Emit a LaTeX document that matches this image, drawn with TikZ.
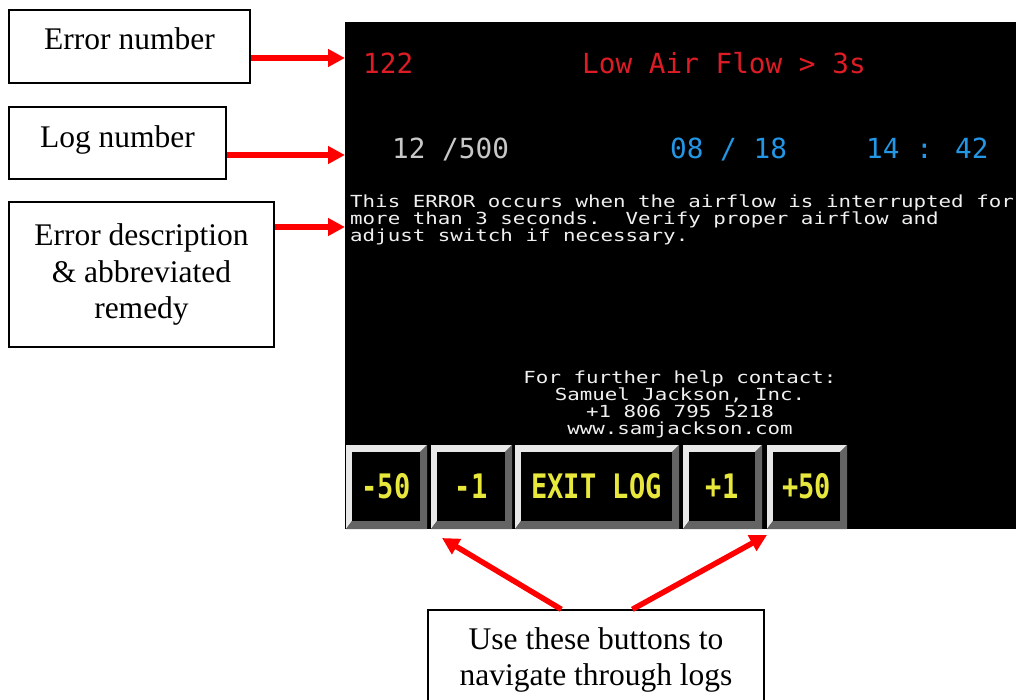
\documentclass[tikz,border=0pt]{standalone}
\usepackage{fontspec}
\usepackage{graphicx}
\setmainfont{Liberation Serif}
\newfontfamily\scrfont{DejaVu Sans Mono}
\usetikzlibrary{arrows.meta,calc}
\newcommand\vsq[1]{\scalebox{1}[0.8]{#1}}
\definecolor{scrred}{RGB}{222,28,38}
\definecolor{scrblue}{RGB}{35,150,230}
\definecolor{scrgray}{RGB}{200,200,200}
\definecolor{scrwhite}{RGB}{240,240,240}
\definecolor{scryellow}{RGB}{232,232,60}
\definecolor{bevlight}{RGB}{232,232,232}
\definecolor{bevdark}{RGB}{100,100,100}
\definecolor{arrred}{RGB}{255,0,0}
\begin{document}
\begin{tikzpicture}[x=1pt,y=-1pt,
  labelbox/.style={draw=black, line width=1.3pt, inner sep=0pt, align=center,
    font=\fontsize{31.5}{36.7}\selectfont},
  callout/.style={arrred, line width=5.5pt, -{Triangle[length=17pt,width=17pt]}},
  bigtxt/.style={inner sep=0pt, anchor=base west, font=\scrfont\fontsize{27.7}{30}\selectfont},
  smalltxt/.style={inner sep=0pt, text=scrwhite, font=\scrfont\fontsize{20.8}{17.5}\selectfont\frenchspacing},
  btnface/.style={fill=black, inner sep=0pt, text=scryellow, minimum height=69pt,
    font=\scrfont\bfseries\fontsize{27}{30}\selectfont}
]
\useasboundingbox (0,0) rectangle (1016,700);
\fill[white] (0,0) rectangle (1016,700);

% screen
\node[fill=black, inner sep=0pt, minimum width=671pt, minimum height=507pt, anchor=north west] (screen) at (345,22) {};

% screen texts
\node[bigtxt, text=scrred] (errno) at (363,74) {122};
\node[bigtxt, text=scrred] (errname) at (582,74) {Low Air Flow > 3s};
\node[bigtxt, text=scrgray] (logno) at (392,159) {12 /500};
\node[bigtxt, text=scrblue] (date) at (670,159) {08 / 18};
\node[bigtxt, text=scrblue] (time) at (866,159) {14 : 42};

\node[smalltxt, anchor=base west] (d1) at (350,208) {\vsq{This ERROR occurs when the airflow is interrupted for}};
\node[smalltxt, anchor=base west] (d2) at (350,225) {\vsq{more than 3 seconds.\ \ Verify proper airflow and}};
\node[smalltxt, anchor=base west] (d3) at (350,242) {\vsq{adjust switch if necessary.}};

\node[smalltxt, anchor=base] (f1) at (680,383) {\vsq{For further help contact:}};
\node[smalltxt, anchor=base] (f2) at (680,400) {\vsq{Samuel Jackson, Inc.}};
\node[smalltxt, anchor=base] (f3) at (680,417) {\vsq{+1 806 795 5218}};
\node[smalltxt, anchor=base] (f4) at (680,434) {\vsq{www.samjackson.com}};

% buttons
\foreach \xa/\xb/\lab/\nm in {346/427/-50/bA, 431/512/-1/bB, 515/679/EXIT LOG/bC, 683/762/+1/bD, 767/847/+50/bE}{
  \fill[bevlight] (\xa,445) -- (\xb,445) -- (\xb-7,452) -- (\xa+6,452) -- (\xa+6,521) -- (\xa,529) -- cycle;
  \fill[bevdark] (\xb,445) -- (\xb,529) -- (\xa,529) -- (\xa+6,521) -- (\xb-7,521) -- (\xb-7,452) -- cycle;
  \node[btnface, minimum width={(\xb-\xa-13)*1pt}] (\nm) at ({(\xa+\xb-1)/2},486.5) {\scalebox{1}[1.25]{\lab}};
}

% label boxes
\node[labelbox, minimum width=241pt, minimum height=73pt, text height=22pt, text depth=15pt] (errbox) at (129.5,46.5) {Error number};
\node[labelbox, minimum width=217pt, minimum height=72pt, text height=22pt, text depth=12pt] (logbox) at (117.5,143) {Log number};
\node[labelbox, minimum width=265pt, minimum height=145pt] (descbox) at (141.5,274.5) {Error description\\ \& abbreviated\\ remedy};
\node[labelbox, minimum width=336pt, minimum height=100pt] (ubox) at (596,660) {Use these buttons to\\ navigate through logs};

% arrows
\coordinate (t1) at (345,58);
\coordinate (t2) at (345,155);
\coordinate (t3) at (345,227);
\coordinate (tL) at (442,538);
\coordinate (tR) at (767,535);
\draw[callout] (errbox.east |- t1) -- (t1);
\draw[callout] (logbox.east |- t2) -- (t2);
\draw[callout] (descbox.east |- t3) -- (t3);
\draw[callout] ([xshift=134pt]ubox.north west) -- (tL);
\draw[callout] ([xshift=205pt]ubox.north west) -- (tR);
\end{tikzpicture}
\end{document}
